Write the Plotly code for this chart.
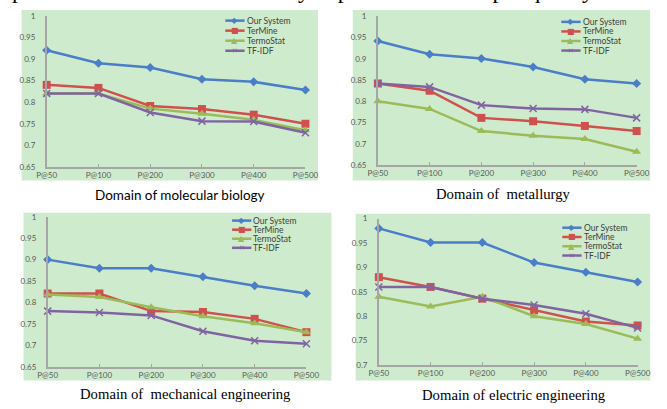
import plotly.graph_objects as go

# ---------------- data ----------------
categories = ["P@50", "P@100", "P@200", "P@300", "P@400", "P@500"]
series_names = ["Our System", "TerMine", "TermoStat", "TF-IDF"]

bio_our = [0.92, 0.89, 0.88, 0.853, 0.847, 0.828]
bio_termine = [0.84, 0.833, 0.791, 0.784, 0.771, 0.75]
bio_termostat = [0.82, 0.82, 0.785, 0.773, 0.759, 0.735]
bio_tfidf = [0.82, 0.82, 0.776, 0.756, 0.755, 0.729]

met_our = [0.942, 0.911, 0.901, 0.881, 0.852, 0.842]
met_termine = [0.842, 0.825, 0.761, 0.753, 0.742, 0.73]
met_termostat = [0.80, 0.782, 0.73, 0.719, 0.711, 0.681]
met_tfidf = [0.842, 0.834, 0.791, 0.783, 0.781, 0.761]

mech_our = [0.90, 0.88, 0.88, 0.86, 0.839, 0.821]
mech_termine = [0.821, 0.821, 0.78, 0.778, 0.762, 0.731]
mech_termostat = [0.819, 0.813, 0.789, 0.768, 0.752, 0.731]
mech_tfidf = [0.78, 0.777, 0.77, 0.733, 0.711, 0.704]

elec_our = [0.98, 0.951, 0.951, 0.91, 0.89, 0.87]
elec_termine = [0.88, 0.86, 0.836, 0.812, 0.789, 0.781]
elec_termostat = [0.84, 0.82, 0.84, 0.80, 0.784, 0.754]
elec_tfidf = [0.86, 0.86, 0.836, 0.823, 0.805, 0.776]

ytick_vals_a = [0.65, 0.7, 0.75, 0.8, 0.85, 0.9, 0.95, 1.0]
ytick_text_a = ["0.65", "0.7", "0.75", "0.8", "0.85", "0.9", "0.95", "1"]
ytick_vals_b = [0.7, 0.75, 0.8, 0.85, 0.9, 0.95, 1.0]
ytick_text_b = ["0.7", "0.75", "0.8", "0.85", "0.9", "0.95", "1"]

panel_titles = ["Domain of molecular biology", "Domain of\u00a0 metallurgy",
                "Domain of\u00a0 mechanical engineering", "Domain of electric engineering"]
top_text = "performance of TF-IDF heavily depends on the output quality."

# ---------------- styling / layout ----------------
W, H = 667, 409
def fx(p): return p / W
def fy(p): return 1 - p / H

colors = ["#4a7ec9", "#d0504d", "#9bbb59", "#8064a2"]
symbols = ["diamond", "square", "triangle-up", "x-thin"]
msizes = [7, 8, 8, 7]
legend_glyphs = ["\u25c6", "\u25a0", "\u25b2", "\u2715"]
legend_gsize = [8, 8, 8, 7]

BG = "#ceeccd"
AXC = "#a6a6a6"
TICKC = "#595959"
SANS = "Lato, sans-serif"
SERIF = "Liberation Serif, serif"

panels = [
    dict(series=[bio_our, bio_termine, bio_termostat, bio_tfidf],
         ax=(38, 306, 11, 166), green=(12, 319, 5, 180), yr=(0.65, 1.0),
         tv=ytick_vals_a, tt=ytick_text_a,
         leg=(223, 16, 10.3), title=(176, 195), tfont=(SANS, 13.5)),
    dict(series=[met_our, met_termine, met_termostat, met_tfidf],
         ax=(381, 649, 11.7, 164), green=(355, 663, 5, 180), yr=(0.65, 1.0),
         tv=ytick_vals_a, tt=ytick_text_a,
         leg=(571, 17.3, 9.8), title=(511, 194), tfont=(SERIF, 14.7)),
    dict(series=[mech_our, mech_termine, mech_termostat, mech_tfidf],
         ax=(39, 307, 217, 371), green=(14, 333, 213, 385), yr=(0.65, 1.0),
         tv=ytick_vals_a, tt=ytick_text_a,
         leg=(230, 221, 9.3), title=(182, 399), tfont=(SERIF, 14.7)),
    dict(series=[elec_our, elec_termine, elec_termostat, elec_tfidf],
         ax=(382, 650, 219, 369), green=(358, 663, 214, 385), yr=(0.7, 1.0),
         tv=ytick_vals_b, tt=ytick_text_b,
         leg=(572, 228.3, 9.5), title=(521.5, 400), tfont=(SERIF, 14.7)),
]

fig = go.Figure()
shapes = []
annotations = []
layout_axes = {}

for k, p in enumerate(panels):
    sfx = "" if k == 0 else str(k + 1)
    xa, ya = "x" + sfx, "y" + sfx
    for i, vals in enumerate(p["series"]):
        fig.add_trace(go.Scatter(
            x=categories, y=vals, name=series_names[i], xaxis=xa, yaxis=ya,
            mode="lines+markers", showlegend=False, cliponaxis=False,
            line=dict(color=colors[i], width=2.5),
            marker=dict(symbol=symbols[i], size=msizes[i], color=colors[i],
                        line=dict(color=colors[i], width=1.5 if symbols[i] == "x-thin" else 0)),
        ))
    x0, x1, y0, y1 = p["ax"]
    layout_axes["xaxis" + sfx] = dict(
        domain=[fx(x0), fx(x1)], anchor=ya, type="category", range=[0, 5],
        showline=True, linecolor=AXC, linewidth=1.5, showgrid=False, zeroline=False,
        ticks="inside", ticklen=3, tickcolor=AXC, tickwidth=1,
        tickfont=dict(family=SANS, size=8, color=TICKC), fixedrange=True)
    layout_axes["yaxis" + sfx] = dict(
        domain=[fy(y1), fy(y0)], anchor=xa, range=list(p["yr"]),
        showline=True, linecolor=AXC, linewidth=1.5, showgrid=False, zeroline=False,
        ticks="", tickvals=p["tv"], ticktext=p["tt"], ticklabelstandoff=8,
        tickfont=dict(family=SANS, size=8, color=TICKC), fixedrange=True)
    gx0, gx1, gy0, gy1 = p["green"]
    shapes.append(dict(type="rect", xref="paper", yref="paper", layer="below",
                       x0=fx(gx0), x1=fx(gx1), y0=fy(gy1), y1=fy(gy0),
                       fillcolor=BG, line=dict(width=0)))
    # legend
    lx, ly, dy = p["leg"]
    for i, nm in enumerate(series_names):
        yy = ly + i * dy
        shapes.append(dict(type="line", xref="paper", yref="paper", layer="above",
                           x0=fx(lx), x1=fx(lx + 20), y0=fy(yy), y1=fy(yy),
                           line=dict(color=colors[i], width=2.5)))
        annotations.append(dict(xref="paper", yref="paper", x=fx(lx + 10), y=fy(yy),
                                text=legend_glyphs[i], showarrow=False,
                                xanchor="center", yanchor="middle",
                                font=dict(family="DejaVu Sans", size=legend_gsize[i], color=colors[i])))
        annotations.append(dict(xref="paper", yref="paper", x=fx(lx + 20), y=fy(yy),
                                text=nm, showarrow=False, xanchor="left", yanchor="middle",
                                font=dict(family=SANS, size=8.5, color="#404040")))
    tx, ty = p["title"]
    annotations.append(dict(xref="paper", yref="paper", x=fx(tx), y=fy(ty),
                            text=panel_titles[k], showarrow=False,
                            xanchor="center", yanchor="middle",
                            font=dict(family=p["tfont"][0], size=p["tfont"][1], color="#000000")))

annotations.append(dict(xref="paper", yref="paper", x=0, y=1, yshift=0,
                        text=top_text, showarrow=False, xanchor="left", yanchor="bottom",
                        font=dict(family=SERIF, size=23.5, color="#000000")))

fig.update_layout(
    width=W, height=H, margin=dict(l=0, r=0, t=0, b=0),
    paper_bgcolor="white", plot_bgcolor="rgba(0,0,0,0)",
    showlegend=False, shapes=shapes, annotations=annotations, **layout_axes)

fig.write_html("out.html", config={"displayModeBar": False},
               post_script="document.body.style.margin='0';document.body.style.overflow='hidden';")
